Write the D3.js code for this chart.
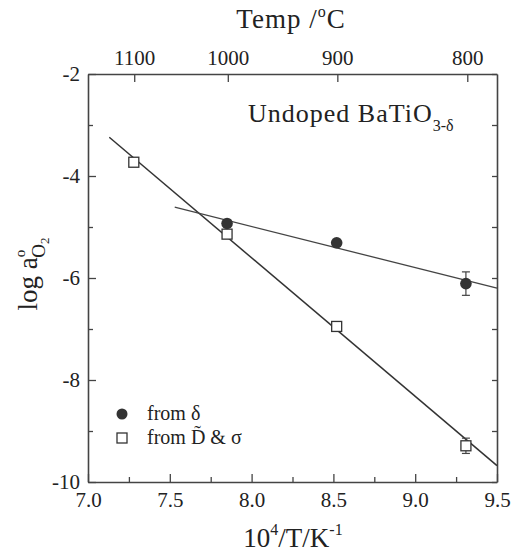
<!DOCTYPE html>
<html><head><meta charset="utf-8">
<script src="https://cdn.jsdelivr.net/npm/d3@7"></script>
<style>body{margin:0;background:#fff}svg{display:block}text{font-family:"Liberation Serif","Times New Roman",serif;fill:#222}</style>
</head><body><svg id="c" width="520" height="554"></svg>
<script>
const xTicks = [7.0, 7.5, 8.0, 8.5, 9.0, 9.5];
const xMinor = [7.25, 7.75, 8.25, 8.75, 9.25];
const yTicks = [-10, -8, -6, -4, -2];
const yMinor = [-9, -7, -5, -3];
const tempTicks = [1100, 1000, 900, 800];

const deltaX = [7.85, 8.52, 9.31];
const deltaY = [-4.93, -5.31, -6.11];
const deltaErr = [0, 0, 0.23];

const dsX = [7.28, 7.85, 8.52, 9.31];
const dsY = [-3.73, -5.14, -6.95, -9.29];
const dsErr = [0, 0, 0, 0.15];

const fitDeltaX = [7.53, 9.5];
const fitDeltaY = [-4.61, -6.20];
const fitDsX = [7.13, 9.5];
const fitDsY = [-3.24, -9.68];

const svg = d3.select("#c");
const L = 88, R = 497, T = 74, B = 482;
const x = d3.scaleLinear().domain([7, 9.5]).range([L, R]);
const y = d3.scaleLinear().domain([-10, -2]).range([B, T]);
const toInv = t => 1e4 / (t + 273.15);

function style(g, fs) {
  g.selectAll(".domain").attr("stroke", "#444").attr("stroke-width", 1.6);
  g.selectAll(".tick line").attr("stroke", "#444").attr("stroke-width", 1.3);
  g.selectAll(".tick text").attr("font-size", fs).attr("font-family", "Liberation Serif").attr("fill", "#222");
}

// bottom
const gb = svg.append("g").attr("transform", `translate(0,${B})`)
  .call(d3.axisBottom(x).tickValues(xTicks).tickFormat(d3.format(".1f")).tickSize(-8).tickSizeOuter(0).tickPadding(10));
style(gb, 21);
const gbm = svg.append("g").attr("transform", `translate(0,${B})`)
  .call(d3.axisBottom(x).tickValues(xMinor).tickFormat("").tickSize(-5).tickSizeOuter(0));
style(gbm, 21); gbm.select(".domain").remove();

// left
const gl = svg.append("g").attr("transform", `translate(${L},0)`)
  .call(d3.axisLeft(y).tickValues(yTicks).tickFormat(d3.format("d")).tickSize(-8).tickSizeOuter(0).tickPadding(8));
style(gl, 21);
gl.selectAll(".tick text").text(d => d < 0 ? "-" + Math.abs(d) : d);
const glm = svg.append("g").attr("transform", `translate(${L},0)`)
  .call(d3.axisLeft(y).tickValues(yMinor).tickFormat("").tickSize(-5).tickSizeOuter(0));
style(glm, 21); glm.select(".domain").remove();

// right
const gr = svg.append("g").attr("transform", `translate(${R},0)`)
  .call(d3.axisRight(y).tickValues(yTicks.concat(yMinor)).tickFormat("").tickSize(-5).tickSizeOuter(0));
style(gr, 21);

// top
const gt = svg.append("g").attr("transform", `translate(0,${T})`)
  .call(d3.axisTop(x).tickValues(tempTicks.map(toInv)).tickFormat((d, i) => tempTicks[i]).tickSize(-8).tickSizeOuter(0).tickPadding(9));
style(gt, 21);

// fit lines
const line = d3.line().x(d => x(d[0])).y(d => y(d[1]));
svg.append("path").attr("d", line(d3.zip(fitDsX, fitDsY))).attr("stroke", "#333").attr("stroke-width", 1.5).attr("fill", "none");
svg.append("path").attr("d", line(d3.zip(fitDeltaX, fitDeltaY))).attr("stroke", "#444").attr("stroke-width", 1.3).attr("fill", "none");

// error bars
function errBars(xs, ys, es) {
  xs.forEach((xv, i) => {
    if (!es[i]) return;
    const g = svg.append("g").attr("stroke", "#444").attr("stroke-width", 1.2);
    g.append("line").attr("x1", x(xv)).attr("x2", x(xv)).attr("y1", y(ys[i] + es[i])).attr("y2", y(ys[i] - es[i]));
    [1, -1].forEach(s => g.append("line").attr("x1", x(xv) - 4).attr("x2", x(xv) + 4)
      .attr("y1", y(ys[i] + s * es[i])).attr("y2", y(ys[i] + s * es[i])));
  });
}
errBars(dsX, dsY, dsErr);
errBars(deltaX, deltaY, deltaErr);

// squares
const sq = 10;
svg.selectAll(".sq").data(d3.zip(dsX, dsY)).join("rect")
  .attr("x", d => x(d[0]) - sq / 2).attr("y", d => y(d[1]) - sq / 2)
  .attr("width", sq).attr("height", sq).attr("fill", "#fff").attr("stroke", "#333").attr("stroke-width", 1.3);
// circles
svg.selectAll(".ci").data(d3.zip(deltaX, deltaY)).join("circle")
  .attr("cx", d => x(d[0])).attr("cy", d => y(d[1])).attr("r", 5.8).attr("fill", "#333");

// legend
svg.append("circle").attr("cx", 122).attr("cy", 414).attr("r", 5.5).attr("fill", "#333");
svg.append("rect").attr("x", 117).attr("y", 433).attr("width", 10).attr("height", 10).attr("fill", "#fff").attr("stroke", "#333").attr("stroke-width", 1.3);
svg.append("text").attr("x", 147).attr("y", 420).attr("font-size", 20).text("from \u03b4");
svg.append("text").attr("x", 147).attr("y", 444).attr("font-size", 20).text("from D\u0303 & \u03c3");

// annotation
const ann = svg.append("text").attr("x", 248).attr("y", 122).attr("font-size", 26).attr("letter-spacing", 1);
ann.append("tspan").text("Undoped BaTiO");
ann.append("tspan").attr("font-size", 16).attr("dy", 9).attr("letter-spacing", 0).text("3-\u03b4");

// axis titles
const tt = svg.append("text").attr("x", 291).attr("y", 28).attr("text-anchor", "middle").attr("font-size", 27).attr("letter-spacing", 1);
tt.append("tspan").text("Temp /");
tt.append("tspan").attr("font-size", 16).attr("dy", -11).text("o");
tt.append("tspan").attr("dy", 11).text("C");

const bt = svg.append("text").attr("x", 293).attr("y", 547).attr("text-anchor", "middle").attr("font-size", 27);
bt.append("tspan").text("10");
bt.append("tspan").attr("font-size", 16).attr("dy", -12).text("4");
bt.append("tspan").attr("dy", 12).text("/T/K");
bt.append("tspan").attr("font-size", 16).attr("dy", -12).text("-1");

const lt = svg.append("text").attr("transform", "translate(37,274) rotate(-90)").attr("text-anchor", "middle").attr("font-size", 27);
lt.append("tspan").text("log a");
lt.append("tspan").attr("font-size", 15).attr("dy", -12).text("o");
lt.append("tspan").attr("font-size", 19).attr("dx", -8).attr("dy", 20).text("O");
lt.append("tspan").attr("font-size", 13).attr("dy", 4).text("2");
</script></body></html>
